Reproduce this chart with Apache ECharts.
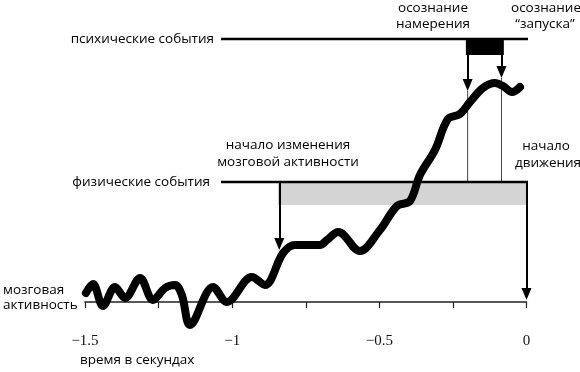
<!DOCTYPE html>
<html><head><meta charset="utf-8">
<script src="https://cdn.jsdelivr.net/npm/echarts@6/dist/echarts.min.js"></script>
<style>html,body{margin:0;padding:0;background:#fff}#c{width:580px;height:372px}</style>
</head><body><div id="c"></div>
<script>
// brain activity trace: time (s) and activity level (arbitrary units)
const timeS = [-1.497,-1.473,-1.439,-1.398,-1.364,-1.313,-1.269,-1.228,-1.194,-1.171,-1.143,-1.065,-1.018,-0.933,-0.889,-0.827,-0.787,-0.702,-0.678,-0.640,-0.566,-0.498,-0.440,-0.396,-0.362,-0.311,-0.267,-0.226,-0.192,-0.148,-0.107,-0.080,-0.049,-0.022];
const activity = [9,18,-4,15,4,24,2,14,17,7,-23,15,0,25,17,49,57,57,62,70,51,72,96,101,127,152,183,188,200,214,219,216,210,215];
// annotation levels (same units)
const eventLineSpan = [-1.038, 0.048];
const mentalLevel = 263;
const physicalLevel = 120;
const bandBottom = 97;
const bandStart = -0.845;
const boxSpan = [-0.206, -0.077];
const boxBottom = 247;
const intentionT = -0.2, intentionTip = 211;
const triggerT = -0.085, triggerTip = 224;
const onsetT = -0.84, onsetTip = 52;
const moveT = 0, moveTip = 2;
const xTicks = {min: -1.5, max: 0, step: 0.5};

const HALF_ARROW = 6;
const SANS = '"Open Sans", "Noto Sans", sans-serif';
function txt(text, x, y, align) {
  return {type: 'text', x: x, y: y, silent: true,
    style: {text: text, font: '13.5px ' + SANS, fill: '#000', textAlign: align || 'left', textVerticalAlign: 'middle'}};
}
const chart = echarts.init(document.getElementById('c'), null, {renderer: 'canvas'});
function arrow(t, from, tip) {
  return [{coord: [t, from]}, {coord: [t, tip + HALF_ARROW]}];
}
chart.setOption({
  animation: false,
  backgroundColor: '#fff',
  grid: {left: 85, right: 53.5, top: 32, bottom: 40},
  xAxis: {
    type: 'value', min: xTicks.min, max: xTicks.max, interval: xTicks.step,
    axisLine: {show: true, onZero: true, lineStyle: {color: '#222', width: 1.5}},
    axisTick: {show: true, length: 6, lineStyle: {color: '#222', width: 1.2}},
    minorTick: {show: true, splitNumber: 2, length: 6, lineStyle: {color: '#222', width: 1.2}},
    splitLine: {show: false}, minorSplitLine: {show: false},
    axisLabel: {margin: 2, fontFamily: '"Liberation Serif", serif', fontSize: 15, color: '#111',
      showMinLabel: true, showMaxLabel: true,
      formatter: v => v === 0 ? '0' : String(v).replace('-', '\u2212')}
  },
  yAxis: {type: 'value', min: -30, max: 270, show: false},
  series: [
    {
      type: 'line', z: 10, data: timeS.map((t, i) => [t, activity[i]]),
      smooth: 0.35, showSymbol: false, symbol: 'none',
      lineStyle: {width: 8, color: '#000', cap: 'round', join: 'round'}
    },
    {
      type: 'line', z: 3, clip: false, symbol: 'none',
      data: [[eventLineSpan[0], mentalLevel], [eventLineSpan[1], mentalLevel]],
      lineStyle: {width: 2.5, color: '#000'},
      markArea: {silent: true, z: 3, itemStyle: {color: '#000'},
        data: [[{coord: [boxSpan[0], mentalLevel]}, {coord: [boxSpan[1], boxBottom]}]]},
      markLine: {silent: true, z: 4, symbol: ['none', 'triangle'], symbolSize: [10, 12],
        lineStyle: {color: '#000', width: 2, type: 'solid'}, label: {show: false},
        data: [arrow(intentionT, boxBottom, intentionTip), arrow(triggerT, boxBottom, triggerTip),
               arrow(onsetT, physicalLevel, onsetTip), arrow(moveT, physicalLevel, moveTip)]}
    },
    {
      type: 'line', z: 3, clip: false, symbol: 'none',
      data: [[eventLineSpan[0], physicalLevel], [eventLineSpan[1], physicalLevel]],
      lineStyle: {width: 2.5, color: '#000'},
      markArea: {silent: true, z: 1, itemStyle: {color: '#d4d4d4'},
        data: [[{coord: [bandStart, physicalLevel]}, {coord: [0, bandBottom]}]]}
    },
    {
      type: 'line', z: 2, symbol: 'none',
      data: [[intentionT, intentionTip], [intentionT, physicalLevel]],
      lineStyle: {width: 1, color: '#444'}
    },
    {
      type: 'line', z: 2, symbol: 'none',
      data: [[triggerT, triggerTip], [triggerT, physicalLevel]],
      lineStyle: {width: 1, color: '#444'}
    }
  ],
  graphic: [
    txt('психические события', 214, 39, 'right'),
    txt('физические события', 210, 182, 'right'),
    txt('осознание', 433, 8, 'center'),
    txt('намерения', 433, 24, 'center'),
    txt('осознание', 546, 8, 'center'),
    txt('\u201cзапуска\u201d', 545, 24, 'center'),
    txt('начало изменения', 288, 145, 'center'),
    txt('мозговой активности', 288, 162, 'center'),
    txt('начало', 546, 146, 'center'),
    txt('движения', 548, 163, 'center'),
    txt('мозговая', 3, 290, 'left'),
    txt('активность', 3, 305, 'left'),
    txt('время в секундах', 80, 360, 'left')
  ]
});
</script></body></html>
